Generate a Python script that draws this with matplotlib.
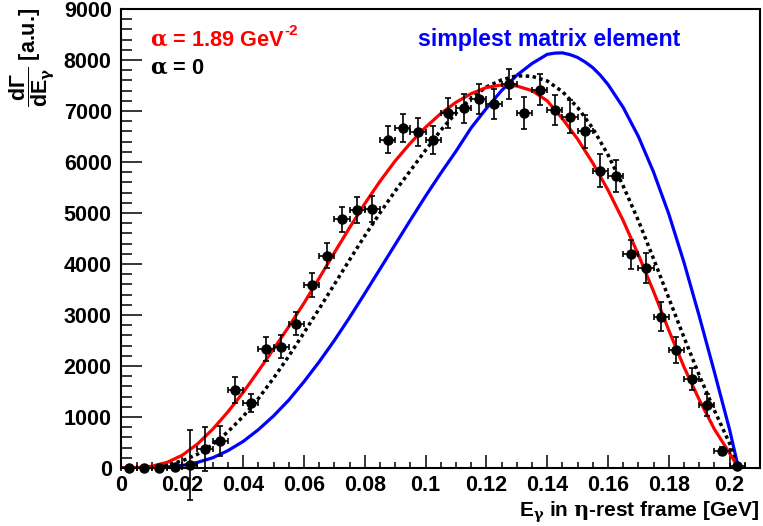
import matplotlib
matplotlib.use('Agg')
import matplotlib.pyplot as plt
from matplotlib.ticker import MultipleLocator
import numpy as np

# Photon energy bins (bin centres, GeV) and measured yield
bin_width = 0.005
e_bins = np.arange(0.0025, 0.2050, bin_width)
counts = [0, 0, 0, 10, 60, 370, 530, 1530, 1280, 2330,
          2380, 2830, 3590, 4160, 4880, 5060, 5080, 6440, 6670, 6590,
          6440, 6960, 7050, 7240, 7130, 7530, 6960, 7420, 7020, 6890,
          6600, 5830, 5730, 4190, 3930, 2970, 2310, 1740, 1240, 340,
          40]
count_err = [0, 0, 0, 30, 680, 430, 300, 250, 180, 230,
             230, 220, 230, 245, 245, 255, 250, 270, 275, 280,
             275, 295, 280, 295, 295, 300, 310, 300, 300, 320,
             330, 325, 315, 290, 295, 280, 250, 220, 215, 80,
             40]

# Model curves tabulated on a grid up to the kinematic endpoint
curve_e = [0.000, 0.005, 0.010, 0.015, 0.020, 0.025, 0.030, 0.035, 0.040, 0.045,
           0.050, 0.055, 0.060, 0.065, 0.070, 0.075, 0.080, 0.085, 0.090, 0.095,
           0.100, 0.105, 0.110, 0.115, 0.120, 0.125, 0.130, 0.135, 0.140, 0.145,
           0.150, 0.155, 0.160, 0.165, 0.170, 0.175, 0.180, 0.185, 0.190, 0.195,
           0.200, 0.2029]
fit_alpha = [0, 5, 35, 110, 250, 470, 760, 1100, 1480, 1900,
             2330, 2770, 3230, 3720, 4220, 4710, 5180, 5620, 6020, 6370,
             6680, 6950, 7170, 7340, 7460, 7510, 7490, 7400, 7200, 6850,
             6450, 5980, 5450, 4850, 4180, 3460, 2700, 1980, 1340, 760,
             290, 0]
alpha_zero = [0, 3, 20, 60, 140, 270, 460, 710, 1010, 1360,
              1760, 2190, 2650, 3120, 3600, 4080, 4550, 5000, 5430, 5830,
              6230, 6620, 6960, 7250, 7470, 7610, 7690, 7680, 7590, 7380,
              7070, 6660, 6140, 5530, 4850, 4100, 3330, 2560, 1820, 1130,
              480, 0]

# Simplest matrix element, with a finer grid around its maximum
simple_e = [0.000, 0.005, 0.010, 0.015, 0.020, 0.025, 0.030, 0.035, 0.040, 0.045,
            0.050, 0.055, 0.060, 0.065, 0.070, 0.075, 0.080, 0.085, 0.090, 0.095,
            0.100, 0.105, 0.110, 0.115, 0.120, 0.125, 0.130, 0.135, 0.140, 0.1425,
            0.145, 0.1475, 0.150, 0.1525, 0.155, 0.1575, 0.160, 0.165, 0.170, 0.175,
            0.180, 0.185, 0.190, 0.195, 0.200, 0.2029]
simple_me = [0, 1, 5, 20, 50, 110, 200, 340, 520, 750,
             1020, 1330, 1690, 2080, 2500, 2950, 3420, 3900, 4380, 4860,
             5330, 5780, 6210, 6670, 7050, 7400, 7700, 7930, 8110, 8135,
             8140, 8105, 8050, 7960, 7850, 7700, 7520, 7070, 6500, 5800,
             4980, 4030, 2980, 1880, 750, 0]

# Fonts: bold sans for text, serif greek letters
plt.rcParams['font.family'] = 'Liberation Sans'
plt.rcParams['font.weight'] = 'bold'
plt.rcParams['mathtext.fontset'] = 'custom'
plt.rcParams['mathtext.rm'] = 'Liberation Sans:bold'
plt.rcParams['mathtext.bf'] = 'Liberation Sans:bold'
plt.rcParams['mathtext.it'] = 'DejaVu Serif'

fig = plt.figure(figsize=(7.63, 5.26), dpi=100)
ax = fig.add_axes([0.1592, 0.1103, 0.8369, 0.8726])

# Curves
ax.plot(simple_e, simple_me, color=(0, 0, 1), lw=2.3, zorder=3)
ax.plot(curve_e, alpha_zero, color='black', lw=2.5, ls=(0, (1, 1)), zorder=3)
ax.plot(curve_e, fit_alpha, color=(1, 0, 0), lw=2.3, zorder=4)

# Data with error bars, drawn on top and not clipped at the axis
ax.errorbar(e_bins, counts, xerr=bin_width / 2, yerr=count_err, fmt='o',
            color='black', ms=6.5, elinewidth=1.2, capsize=2.2, capthick=1.2,
            zorder=5, clip_on=False)

ax.set_xlim(0, 0.21)
ax.set_ylim(0, 9000)

ax.xaxis.set_major_locator(MultipleLocator(0.02))
ax.xaxis.set_minor_locator(MultipleLocator(0.005))
ax.yaxis.set_major_locator(MultipleLocator(1000))
ax.yaxis.set_minor_locator(MultipleLocator(200))
ax.set_xticks(np.arange(0, 0.201, 0.02))
ax.set_xticklabels(['0', '0.02', '0.04', '0.06', '0.08', '0.1',
                    '0.12', '0.14', '0.16', '0.18', '0.2'])

ax.tick_params(axis='both', which='both', direction='in', top=False, right=False,
               width=1.1, color='black', labelsize=15.5)
ax.tick_params(axis='y', which='major', length=15, pad=7)
ax.tick_params(axis='y', which='minor', length=8)
ax.tick_params(axis='x', which='major', length=9.5, pad=5)
ax.tick_params(axis='x', which='minor', length=4.5)
for lab in ax.get_xticklabels() + ax.get_yticklabels():
    lab.set_fontweight('bold')

for side in ['left', 'bottom', 'top', 'right']:
    ax.spines[side].set_linewidth(1.5)
    ax.spines[side].set_color('black')

# Axis titles
W, H = 763.0, 526.0
fig.text(519 / W, 1 - 517 / H, r'$\mathrm{E}_{\gamma}$ in $\eta$-rest frame [GeV]',
         fontsize=15.0, fontweight='bold', ha='left', va='baseline')
fig.text(32 / W, 1 - 8 / H, r'$\dfrac{\mathrm{d}\Gamma}{\mathrm{dE}_{\gamma}}$ [a.u.]',
         fontsize=15.5, fontweight='bold', rotation=90, ha='center', va='top')

# Legend texts
fig.text(150 / W, 1 - 45 / H, r'$\alpha$ = 1.89 GeV', color=(1, 0, 0),
         fontsize=15.7, fontweight='bold', ha='left', va='baseline')
fig.text(284 / W, 1 - 35 / H, '-2', color=(1, 0, 0),
         fontsize=11, fontweight='bold', ha='left', va='baseline')
fig.text(150 / W, 1 - 73 / H, r'$\alpha$ = 0', color='black',
         fontsize=15.7, fontweight='bold', ha='left', va='baseline')
fig.text(418 / W, 1 - 46 / H, 'simplest matrix element', color=(0, 0, 1),
         fontsize=16.7, fontweight='bold', ha='left', va='baseline')

fig.savefig('out.png', dpi=100)
